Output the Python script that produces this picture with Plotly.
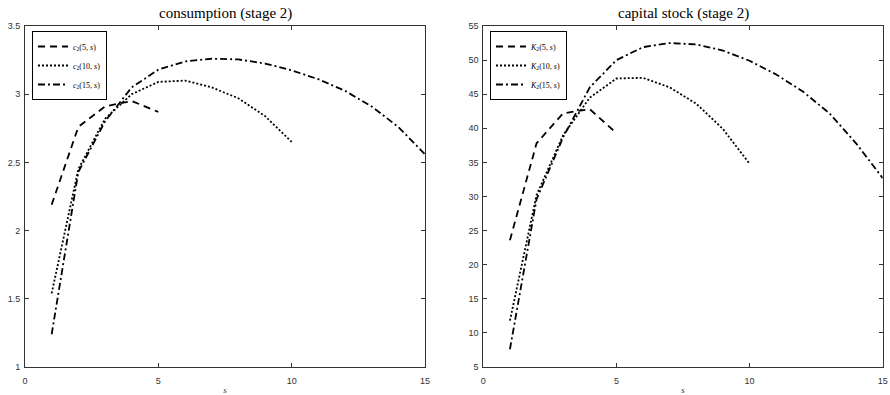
import plotly.graph_objects as go

# ---- data ----
s5 = [1, 2, 3, 4, 5]
s10 = list(range(1, 11))
s15 = list(range(1, 16))

c_5 = [2.19, 2.76, 2.91, 2.95, 2.87]
c_10 = [1.54, 2.45, 2.82, 3.00, 3.09, 3.10, 3.05, 2.97, 2.84, 2.65]
c_15 = [1.24, 2.43, 2.80, 3.05, 3.18, 3.24, 3.26, 3.255, 3.225, 3.175, 3.11, 3.025, 2.91, 2.76, 2.56]

k_5 = [23.6, 37.8, 42.2, 42.8, 39.3]
k_10 = [11.8, 30.2, 39.0, 44.5, 47.3, 47.4, 46.0, 43.6, 39.9, 34.8]
k_15 = [7.6, 29.6, 38.7, 46.0, 50.0, 51.9, 52.5, 52.3, 51.4, 49.9, 47.9, 45.4, 42.2, 37.8, 32.7]

c_names = ["<i>c</i><sub>2</sub>(5, <i>s</i>)", "<i>c</i><sub>2</sub>(10, <i>s</i>)", "<i>c</i><sub>2</sub>(15, <i>s</i>)"]
k_names = ["<i>K</i><sub>2</sub>(5, <i>s</i>)", "<i>K</i><sub>2</sub>(10, <i>s</i>)", "<i>K</i><sub>2</sub>(15, <i>s</i>)"]
titles = ["consumption (stage 2)", "capital stock (stage 2)"]

W, H = 890, 395
fig = go.Figure()

dashes = ["7px,5px", "2px,2px", "7px,3px,2px,3px"]
for xs, ys, nm, d in zip([s5, s10, s15], [c_5, c_10, c_15], c_names, dashes):
    fig.add_trace(go.Scatter(x=xs, y=ys, name=nm, mode="lines",
                             line=dict(color="black", width=1.8, dash=d),
                             xaxis="x", yaxis="y", legend="legend"))
for xs, ys, nm, d in zip([s5, s10, s15], [k_5, k_10, k_15], k_names, dashes):
    fig.add_trace(go.Scatter(x=xs, y=ys, name=nm, mode="lines",
                             line=dict(color="black", width=1.8, dash=d),
                             xaxis="x2", yaxis="y2", legend="legend2"))

ytop = 1 - 26 / H
ybot = 1 - 367 / H
axcommon = dict(showgrid=False, zeroline=False, showline=True, linecolor="#333333",
                linewidth=1, mirror="ticks", ticks="inside", ticklen=4,
                tickcolor="#333333", automargin=False,
                tickfont=dict(family="Liberation Sans, Arial", size=9, color="#333333"))
xtitle = dict(text="<i>s</i>", standoff=9,
              font=dict(family="Liberation Serif", size=9, color="#333333"))
legcommon = dict(bgcolor="white", bordercolor="black", borderwidth=1,
                 font=dict(family="Liberation Serif", size=8, color="black"),
                 tracegroupgap=0, itemwidth=30, xanchor="left", yanchor="top")

fig.update_layout(
    width=W, height=H,
    margin=dict(l=0, r=0, t=0, b=0, autoexpand=False),
    paper_bgcolor="white", plot_bgcolor="white",
    xaxis=dict(domain=[25 / W, 425 / W], range=[0, 15], dtick=5, anchor="y",
               title=xtitle, ticklabelstandoff=5, **axcommon),
    yaxis=dict(domain=[ybot, ytop], range=[1, 3.5], dtick=0.5, anchor="x",
               ticklabelstandoff=2, **axcommon),
    xaxis2=dict(domain=[483.3 / W, 882.7 / W], range=[0, 15], dtick=5, anchor="y2",
                title=xtitle, ticklabelstandoff=5, **axcommon),
    yaxis2=dict(domain=[ybot, ytop], range=[5, 55], dtick=5, anchor="x2",
                ticklabelstandoff=2, **axcommon),
    legend=dict(x=32 / W, y=1 - 31 / H, **legcommon),
    legend2=dict(x=490 / W, y=1 - 31 / H, **legcommon),
    showlegend=True,
    annotations=[
        dict(text=titles[0], x=225 / W, y=1 - 14 / H, xref="paper", yref="paper",
             showarrow=False, xanchor="center", yanchor="middle",
             font=dict(family="Liberation Serif", size=15, color="black")),
        dict(text=titles[1], x=683 / W, y=1 - 14 / H, xref="paper", yref="paper",
             showarrow=False, xanchor="center", yanchor="middle",
             font=dict(family="Liberation Serif", size=15, color="black")),
    ],
)

fig.write_html("out.html", config={"displayModeBar": False},
               post_script="document.body.style.margin='0px';")
